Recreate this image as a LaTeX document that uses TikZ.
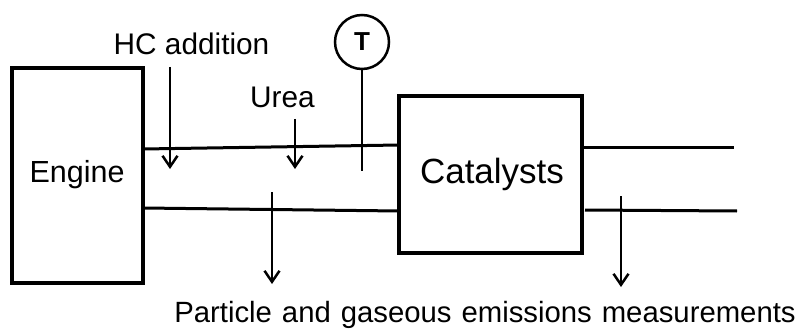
\documentclass[tikz,border=0pt]{standalone}
\usepackage{fontspec}
\setmainfont{Liberation Sans}
\usetikzlibrary{arrows.meta}
\begin{document}
\begin{tikzpicture}[x=1pt,y=-1pt,
  box/.style={draw,line width=3.6pt,inner sep=0pt},
  pipe/.style={line width=3pt},
  flow/.style={line width=2.5pt,-{Straight Barb[length=11pt,width=15pt,line width=2.5pt]}},
  lbl/.style={inner sep=0pt,anchor=base,font=\fontsize{29.8}{30}\selectfont}]
\useasboundingbox (0,0) rectangle (804,329);
\node[box,minimum width=131pt,minimum height=215pt] (eng) at (77.5,175.5) {};
\node[lbl,font=\fontsize{30.5}{31}\selectfont] (engt) at (77,182) {Engine};
\node[box,minimum width=183pt,minimum height=157pt] (cat) at (490.5,174.5) {};
\node[lbl,font=\fontsize{35}{36}\selectfont] (catt) at (492,183) {Catalysts};
% pipes
\coordinate (p1) at (143,149); \coordinate (p2) at (399,145);
\coordinate (p3) at (143,208); \coordinate (p4) at (399,211);
\coordinate (p5) at (582,147); \coordinate (p6) at (734,147);
\coordinate (p7) at (585,210); \coordinate (p8) at (737,211);
\draw[pipe] (p1) -- (p2);
\draw[pipe] (p3) -- (p4);
\draw[pipe] (p5) -- (p6);
\draw[pipe] (p7) -- (p8);
% labels
\node[lbl] (hc) at (191.5,55) {HC addition};
\node[lbl] (urea) at (282.5,107) {Urea};
\node[draw,circle,line width=2.5pt,minimum size=54pt,inner sep=0pt,font=\fontsize{26}{26}\selectfont\bfseries] (T) at (362,42) {T};
\node[lbl,font=\fontsize{29.3}{31}\selectfont] (meas) at (485,322.5) {\spaceskip=10pt\relax Particle and gaseous emissions measurements};
% arrows
\coordinate (a1s) at (170,67); \coordinate (a1e) at (170,169);
\coordinate (a2s) at (295,119); \coordinate (a2e) at (295,169);
\coordinate (a3s) at (272,192); \coordinate (a3e) at (272,284);
\coordinate (a4s) at (621,196); \coordinate (a4e) at (621,287);
\coordinate (ts) at (362,171);
\draw[flow] (a1s) -- (a1e);
\draw[flow] (a2s) -- (a2e);
\draw[flow] (a3s) -- (a3e);
\draw[flow] (a4s) -- (a4e);
\draw[line width=2.5pt] (T.south) -- (ts);
\end{tikzpicture}
\end{document}
